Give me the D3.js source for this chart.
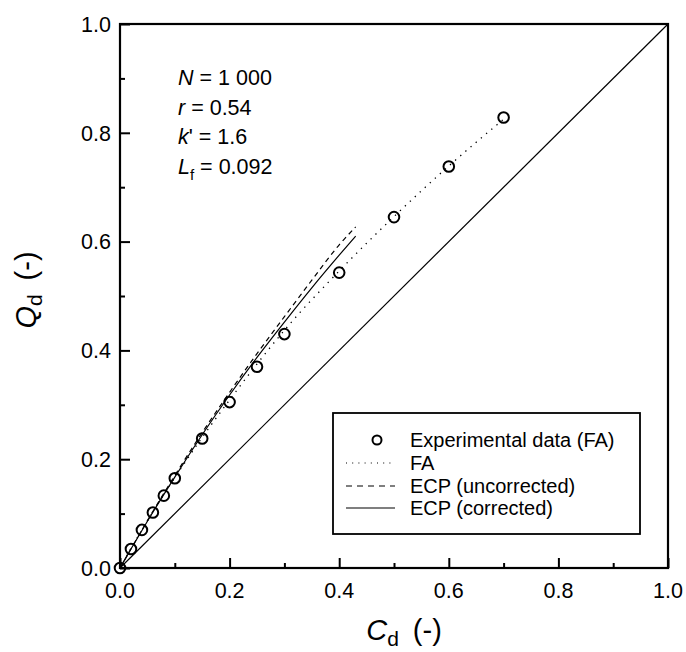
<!DOCTYPE html>
<html><head><meta charset="utf-8">
<script src="https://cdn.jsdelivr.net/npm/d3@7"></script>
<style>
html,body{margin:0;padding:0;background:#fff;}
text{font-family:Arial,"Liberation Sans",Helvetica,sans-serif;fill:#000;}
</style></head>
<body><svg id="chart" width="686" height="652"></svg>
<script>
// ---- data ----
const expC = [0, 0.02, 0.04, 0.06, 0.08, 0.10, 0.15, 0.20, 0.25, 0.30, 0.40, 0.50, 0.60, 0.70];
const expQ = [0, 0.035, 0.070, 0.102, 0.133, 0.165, 0.238, 0.305, 0.370, 0.430, 0.543, 0.645, 0.738, 0.828];
const faC  = [0, 0.02, 0.04, 0.06, 0.08, 0.10, 0.15, 0.20, 0.25, 0.30, 0.40, 0.50, 0.60, 0.70];
const faQ  = [0, 0.036, 0.070, 0.103, 0.135, 0.166, 0.240, 0.309, 0.375, 0.437, 0.546, 0.646, 0.739, 0.825];
const ecpC = [0, 0.02, 0.05, 0.10, 0.15, 0.20, 0.25, 0.30, 0.35, 0.40, 0.43];
const ecpUncorrQ = [0, 0.035, 0.087, 0.170, 0.249, 0.323, 0.394, 0.462, 0.529, 0.594, 0.627];
const ecpCorrQ   = [0, 0.035, 0.086, 0.167, 0.245, 0.318, 0.387, 0.452, 0.515, 0.575, 0.610];
const diagC = [0, 1];
const majorTicks = [0, 0.2, 0.4, 0.6, 0.8, 1.0];
const minorTicks = [0.1, 0.3, 0.5, 0.7, 0.9];
const legendLabels = ["Experimental data (FA)", "FA", "ECP (uncorrected)", "ECP (corrected)"];

// ---- layout ----
const svg = d3.select("#chart");
const x = d3.scaleLinear().domain([0, 1]).range([120, 668]);
const y = d3.scaleLinear().domain([0, 1]).range([568, 24]);
const fmt = d3.format(".1f");

const line = d3.line().x(d => x(d[0])).y(d => y(d[1]));
const smooth = d3.line().x(d => x(d[0])).y(d => y(d[1])).curve(d3.curveMonotoneX);

// diagonal
svg.append("path").datum(diagC.map(c => [c, c])).attr("d", line)
  .attr("fill", "none").attr("stroke", "#000").attr("stroke-width", 1.2);

// FA dotted
svg.append("path").datum(faC.map((c, i) => [c, faQ[i]])).attr("d", smooth)
  .attr("fill", "none").attr("stroke", "#000").attr("stroke-width", 1.3)
  .attr("stroke-dasharray", "1.3,5.5");

// ECP uncorrected dashed
svg.append("path").datum(ecpC.map((c, i) => [c, ecpUncorrQ[i]])).attr("d", smooth)
  .attr("fill", "none").attr("stroke", "#000").attr("stroke-width", 1.2)
  .attr("stroke-dasharray", "5,4");

// ECP corrected solid
svg.append("path").datum(ecpC.map((c, i) => [c, ecpCorrQ[i]])).attr("d", smooth)
  .attr("fill", "none").attr("stroke", "#000").attr("stroke-width", 1.2);

// experimental points
svg.append("g").selectAll("circle").data(expC.map((c, i) => [c, expQ[i]])).join("circle")
  .attr("cx", d => x(d[0])).attr("cy", d => y(d[1])).attr("r", 5.3)
  .attr("fill", "none").attr("stroke", "#000").attr("stroke-width", 2);

// axes (inward ticks)
const xMajor = d3.axisTop(x).tickValues(majorTicks).tickSize(10).tickFormat("");
const xMinor = d3.axisTop(x).tickValues(minorTicks).tickSize(5).tickFormat("");
const yMajor = d3.axisRight(y).tickValues(majorTicks).tickSize(10).tickFormat("");
const yMinor = d3.axisRight(y).tickValues(minorTicks).tickSize(5).tickFormat("");
[[xMajor, `translate(0,${y(0)})`], [xMinor, `translate(0,${y(0)})`],
 [yMajor, `translate(${x(0)},0)`], [yMinor, `translate(${x(0)},0)`]].forEach(([ax, tr]) => {
  const g = svg.append("g").attr("transform", tr).call(ax);
  g.select(".domain").remove();
  g.selectAll("line").attr("stroke", "#000").attr("stroke-width", 2);
});

// frame
svg.append("rect").attr("x", x(0)).attr("y", y(1))
  .attr("width", x(1) - x(0)).attr("height", y(0) - y(1))
  .attr("fill", "none").attr("stroke", "#000").attr("stroke-width", 2.2);

// tick labels
svg.append("g").selectAll("text").data(majorTicks).join("text")
  .attr("x", d => x(d)).attr("y", y(0) + 29.5).attr("text-anchor", "middle")
  .attr("font-size", 21.5).text(d => fmt(d));
svg.append("g").selectAll("text").data(majorTicks).join("text")
  .attr("x", x(0) - 9).attr("y", d => y(d) + 7.8).attr("text-anchor", "end")
  .attr("font-size", 21.5).text(d => fmt(d));

// axis titles
const xt = svg.append("text").attr("x", (x(0) + x(1)) / 2 + 10).attr("y", 640)
  .attr("text-anchor", "middle").attr("font-size", 29);
xt.append("tspan").attr("font-style", "italic").text("C");
xt.append("tspan").attr("font-size", 21).attr("dy", 6).text("d");
xt.append("tspan").attr("dy", -6).attr("dx", 14).text("(-)");

const yt = svg.append("text").attr("transform", `translate(36,${(y(0) + y(1)) / 2 - 6}) rotate(-90)`)
  .attr("text-anchor", "middle").attr("font-size", 29);
yt.append("tspan").attr("font-style", "italic").text("Q");
yt.append("tspan").attr("font-size", 21).attr("dy", 6).text("d");
yt.append("tspan").attr("dy", -6).attr("dx", 14).text("(-)");

// annotation
const ann = svg.append("g").attr("font-size", 21.5);
const a1 = ann.append("text").attr("x", 178).attr("y", 85);
a1.append("tspan").attr("font-style", "italic").text("N");
a1.append("tspan").text(" = 1 000");
const a2 = ann.append("text").attr("x", 178).attr("y", 115);
a2.append("tspan").attr("font-style", "italic").text("r");
a2.append("tspan").text(" = 0.54");
const a3 = ann.append("text").attr("x", 178).attr("y", 144);
a3.append("tspan").attr("font-style", "italic").text("k");
a3.append("tspan").text("' = 1.6");
const a4 = ann.append("text").attr("x", 178).attr("y", 174);
a4.append("tspan").attr("font-style", "italic").text("L");
a4.append("tspan").attr("font-size", 15).attr("dy", 6).text("f");
a4.append("tspan").attr("dy", -6).text(" = 0.092");

// legend
const lg = svg.append("g");
lg.append("rect").attr("x", 333).attr("y", 413).attr("width", 307).attr("height", 121)
  .attr("fill", "#fff").attr("stroke", "#000").attr("stroke-width", 1.8);
const rowY = [440, 463, 486, 508];
lg.append("circle").attr("cx", 377).attr("cy", rowY[0]).attr("r", 4.5)
  .attr("fill", "none").attr("stroke", "#000").attr("stroke-width", 2);
const dashes = ["1,5.2", "6,5", null];
dashes.forEach((da, i) => {
  const l = lg.append("line").attr("x1", 346).attr("x2", 395)
    .attr("y1", rowY[i + 1]).attr("y2", rowY[i + 1])
    .attr("stroke", "#000").attr("stroke-width", i === 0 ? 1.1 : 1.2);
  if (da) l.attr("stroke-dasharray", da);
});
lg.selectAll("text.lab").data(legendLabels).join("text").attr("class", "lab")
  .attr("x", 410).attr("y", (d, i) => rowY[i] + 7).attr("font-size", 20).text(d => d);
</script></body></html>
